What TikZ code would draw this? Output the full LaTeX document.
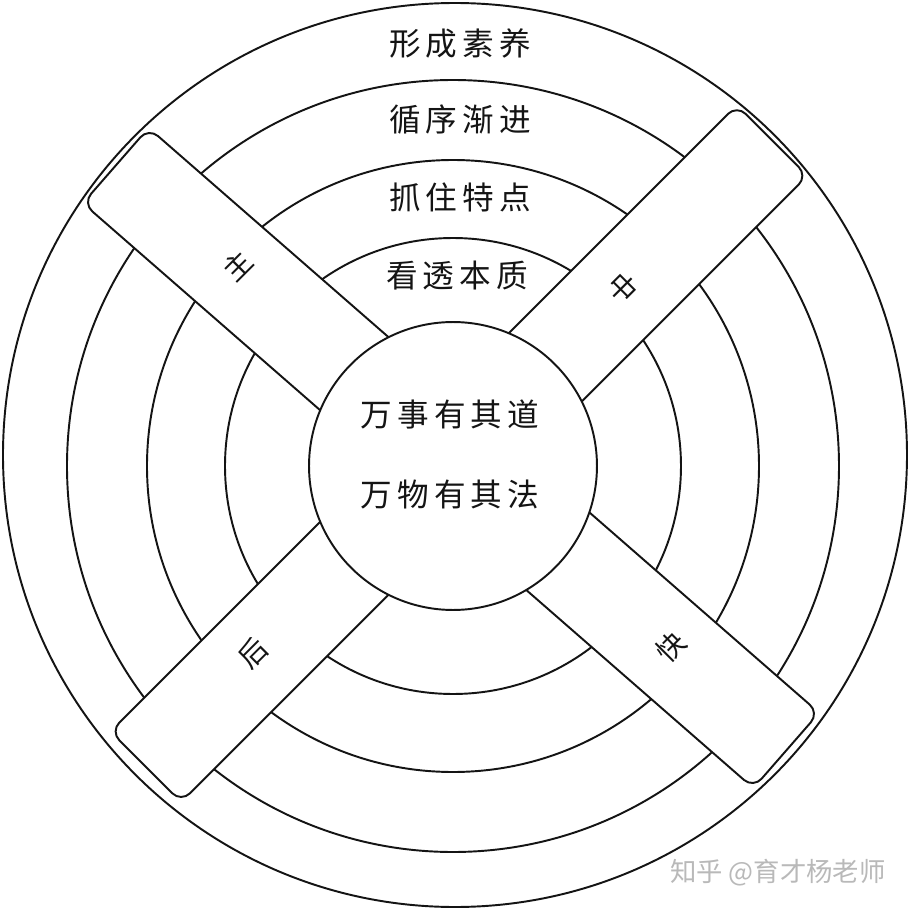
\documentclass[tikz,border=0pt]{standalone}
\usepackage{fontspec}
\usepackage{xcolor}
\usepackage{tikz}
\usetikzlibrary{positioning}
\newfontfamily\cjk[LetterSpace=16]{Noto Sans CJK SC}
\newfontfamily\cjkplain{Noto Sans CJK SC}
\definecolor{mydark}{RGB}{20,20,20}
\definecolor{mygrey}{RGB}{185,185,185}
\tikzset{
  ring/.style={draw=mydark, line width=1.1pt},
  bar/.style={rectangle, draw=mydark, fill=white, line width=1.1pt,
    rounded corners=0.25cm, minimum height=2cm, inner sep=0pt},
  core/.style={circle, draw=mydark, fill=white, line width=1.1pt,
    minimum size=5.76cm, inner sep=0pt},
  lbl/.style={font=\cjk\fontsize{18}{21}\selectfont, text=mydark, inner sep=0pt},
  barlbl/.style={font=\cjkplain\fontsize{16}{18}\selectfont, text=mydark, inner sep=0pt},
  wmark/.style={font=\cjkplain\fontsize{15}{18}\selectfont, text=mygrey, inner sep=0pt}
}

\begin{document}
\begin{tikzpicture}[x=0.02cm, y=0.02cm]
  \useasboundingbox (-455,-455) rectangle (455,455);
  \fill[white] (-455,-455) rectangle (455,455);

  \draw[ring] (0,0) circle[radius=452];
  \foreach \r in {386,306,228}
    \draw[ring] (-2,-11) circle[radius=\r];

  \node[bar, rotate=-41.1, minimum width=17.8cm] (barA) at (-4,-3) {};
  \node[bar, rotate=45, minimum width=17.72cm] (barB) at (4,1.4) {};
  \node[core] (core) at (-2,-11) {};

  \node[lbl] (ringA) at (5,412) {形成素养};
  \node[lbl] (ringB) at (5,335) {循序渐进};
  \node[lbl] (ringC) at (5,258) {抓住特点};
  \node[lbl] (ringD) at (2,179) {看透本质};

  \node[lbl] (dao) at (-5,41) {万事有其道};
  \node[lbl] (fa) at (-5,-40) {万物有其法};

  \node[barlbl, rotate=45] (zhu) at (-217,189) {主};
  \node[barlbl, rotate=-45] (zhong) at (168,167) {中};
  \node[barlbl, rotate=45] (hou) at (-202,-198) {后};
  \node[barlbl, rotate=45] (kuai) at (216,-192) {快};

  \node[wmark] (credit) at (323,-418) {知乎 @育才杨老师};
\end{tikzpicture}
\end{document}
